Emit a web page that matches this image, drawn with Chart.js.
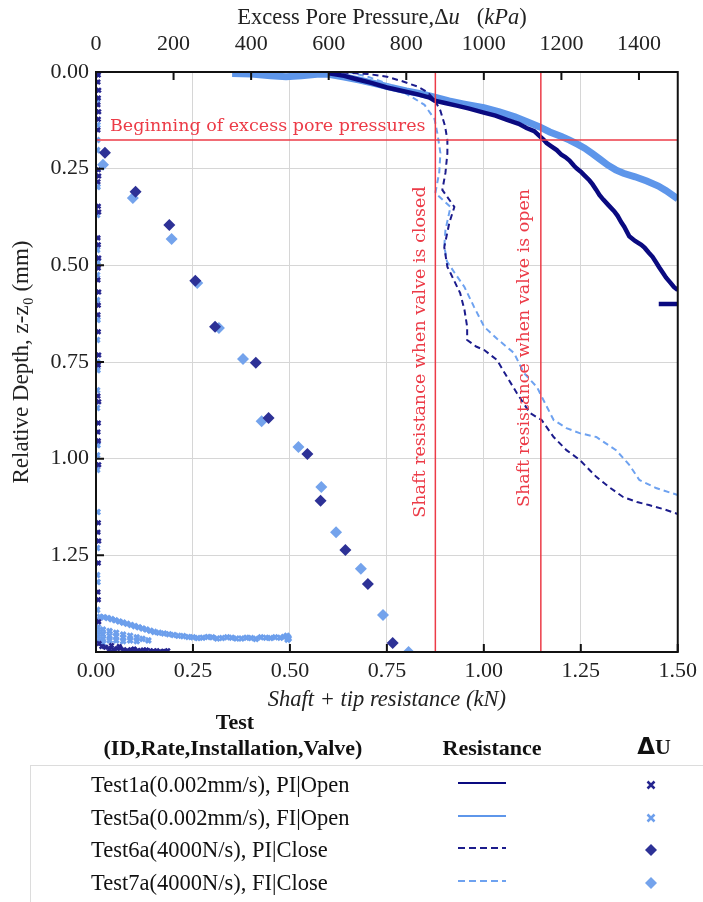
<!DOCTYPE html>
<html>
<head>
<meta charset="utf-8">
<script src="https://cdn.jsdelivr.net/npm/chart.js@4.4.0/dist/chart.umd.min.js"></script>
<style>
body { margin: 0; background: #fff; }
#wrap { position: relative; width: 703px; height: 902px; overflow: hidden; font-family: "Liberation Serif", "Times New Roman", serif; color: #111; }
#chart { position: absolute; left: 0; top: 0; }
.hd { position: absolute; font-weight: bold; font-size: 22px; transform: translate(-50%, -50%); white-space: nowrap; }
#legendBox { position: absolute; left: 30px; top: 765px; width: 700px; height: 160px; border: 1px solid #dcdcdc; }
.row { position: absolute; left: 91px; font-size: 22.5px; transform: translateY(-50%); white-space: nowrap; }
svg.smp { position: absolute; overflow: visible; }
</style>
</head>
<body>
<div id="wrap">
  <canvas id="chart" width="703" height="715"></canvas>
  <div class="hd" style="left:235px;top:722px">Test</div>
  <div class="hd" style="left:233px;top:748px">(ID,Rate,Installation,Valve)</div>
  <div class="hd" style="left:492px;top:748px">Resistance</div>
  <div class="hd" style="left:654px;top:746px"><span style="font-family:'DejaVu Sans',sans-serif;font-size:23px">Δ</span>U</div>
  <div id="legendBox"></div>
</div>
<script>
// tick values
const resistanceTicks = [0, 0.25, 0.5, 0.75, 1.0, 1.25, 1.5];
const pressureTicks = [0, 200, 400, 600, 800, 1000, 1200, 1400];
const depthTicks = [0, 0.25, 0.5, 0.75, 1.0, 1.25, 1.5];

// reference lines
const beginDepth = 0.176;
const closedShaft = 0.875;
const openShaft = 1.147;

// resistance curves (kN vs depth mm)
const test1aResKN = [0.60, 0.64, 0.67, 0.71, 0.75, 0.79, 0.83, 0.86, 0.873, 0.90, 0.93, 0.96, 1.00, 1.03, 1.06, 1.09, 1.11, 1.13, 1.144, 1.155, 1.162, 1.175, 1.188, 1.20, 1.21, 1.221, 1.232, 1.239, 1.25, 1.258, 1.272, 1.28, 1.29, 1.298, 1.308, 1.32, 1.336, 1.345, 1.354, 1.362, 1.375, 1.39, 1.406, 1.415, 1.426, 1.435, 1.444, 1.452, 1.462, 1.47, 1.482, 1.49, 1.5];
const test1aResDepth = [0.003, 0.010, 0.018, 0.028, 0.040, 0.049, 0.058, 0.066, 0.074, 0.080, 0.087, 0.094, 0.105, 0.113, 0.124, 0.134, 0.145, 0.153, 0.166, 0.176, 0.184, 0.193, 0.202, 0.214, 0.220, 0.229, 0.242, 0.249, 0.258, 0.266, 0.280, 0.290, 0.305, 0.318, 0.330, 0.343, 0.360, 0.372, 0.388, 0.400, 0.425, 0.437, 0.447, 0.455, 0.468, 0.478, 0.492, 0.505, 0.520, 0.532, 0.546, 0.556, 0.564];
const test1aTailKN = [1.451, 1.5];
const test1aTailDepth = [0.600, 0.600];

const test5aResKN = [0.351, 0.40, 0.45, 0.49, 0.53, 0.57, 0.60, 0.64, 0.68, 0.72, 0.76, 0.80, 0.84, 0.873, 0.91, 0.95, 1.00, 1.04, 1.08, 1.11, 1.144, 1.17, 1.20, 1.221, 1.24, 1.26, 1.28, 1.30, 1.32, 1.34, 1.36, 1.39, 1.42, 1.45, 1.47, 1.50];
const test5aResDepth = [0.004, 0.005, 0.010, 0.012, 0.010, 0.006, 0.006, 0.013, 0.021, 0.030, 0.040, 0.049, 0.057, 0.065, 0.075, 0.083, 0.092, 0.103, 0.116, 0.128, 0.142, 0.155, 0.167, 0.176, 0.186, 0.197, 0.211, 0.226, 0.241, 0.253, 0.262, 0.271, 0.282, 0.295, 0.307, 0.328];

const test6aResKN = [0.61, 0.70, 0.75, 0.79, 0.83, 0.855, 0.873, 0.888, 0.900, 0.906, 0.906, 0.901, 0.893, 0.924, 0.911, 0.898, 0.906, 0.914, 0.939, 0.950, 0.957, 0.957, 0.980, 1.001, 1.034, 1.060, 1.085, 1.119, 1.149, 1.180, 1.213, 1.247, 1.290, 1.325, 1.359, 1.395, 1.426, 1.465, 1.500];
const test6aResDepth = [0.000, 0.005, 0.012, 0.024, 0.038, 0.052, 0.072, 0.100, 0.140, 0.176, 0.210, 0.261, 0.305, 0.349, 0.390, 0.453, 0.504, 0.520, 0.572, 0.615, 0.659, 0.693, 0.710, 0.719, 0.745, 0.789, 0.830, 0.882, 0.900, 0.944, 0.978, 1.003, 1.047, 1.075, 1.099, 1.112, 1.120, 1.131, 1.143];

const test7aResKN = [0.65, 0.70, 0.74, 0.778, 0.81, 0.847, 0.873, 0.881, 0.888, 0.885, 0.875, 0.914, 0.901, 0.898, 0.905, 0.925, 0.950, 0.975, 1.001, 1.034, 1.078, 1.103, 1.137, 1.160, 1.180, 1.213, 1.247, 1.290, 1.341, 1.375, 1.401, 1.444, 1.500];
const test7aResDepth = [0.000, 0.012, 0.026, 0.044, 0.062, 0.085, 0.122, 0.163, 0.210, 0.260, 0.313, 0.349, 0.409, 0.450, 0.490, 0.520, 0.556, 0.608, 0.659, 0.690, 0.727, 0.778, 0.815, 0.861, 0.900, 0.921, 0.934, 0.944, 0.978, 1.016, 1.055, 1.076, 1.094];

// excess pore pressure (kPa vs depth mm)
const test1aDuKPa = [6, 5, 7, 6, 5, 7, 6, 5, 6, 7, 5, 6, 7, 5, 6, 7, 6, 5, 7, 6, 5, 6, 7, 6, 5, 7, 6, 5, 6, 7, 6, 5, 7, 6, 5, 6, 7,
  8, 15, 25, 35, 45, 55, 62, 72, 80, 90, 98, 108, 115, 122, 130, 140, 148, 157, 165, 175, 185, 40, 60];
const test1aDuDepth = [0.008, 0.026, 0.047, 0.067, 0.085, 0.103, 0.122, 0.150, 0.253, 0.269, 0.284, 0.347, 0.362, 0.429, 0.447, 0.481, 0.507, 0.538, 0.569, 0.603, 0.628, 0.672, 0.732, 0.758, 0.838, 0.853, 0.908, 0.931, 0.954, 1.016, 1.166, 1.190, 1.213, 1.270, 1.345, 1.365, 1.422,
  1.478, 1.486, 1.488, 1.492, 1.494, 1.491, 1.490, 1.494, 1.496, 1.494, 1.492, 1.496, 1.497, 1.495, 1.495, 1.497, 1.498, 1.497, 1.499, 1.498, 1.497, 1.483, 1.486];

const test5aDuKPa = [3, 4, 3, 3, 4, 3, 3, 4, 3, 3, 4, 3, 3, 4, 3, 3, 4, 3, 3, 4, 3, 3, 4, 3,
  10, 20, 30, 40, 50, 60, 70, 80, 90, 100, 110, 120, 130, 140, 150, 162, 175, 188, 200, 212, 225, 238, 250, 262, 275, 288, 300, 312, 325, 338, 350, 362, 375, 388, 400, 412, 425, 438, 450, 462, 475, 485, 492, 495, 497, 494,
  5, 5, 5, 5, 18, 18, 18, 18, 35, 35, 35, 52, 52, 52, 70, 70, 70, 88, 88, 105, 105, 120, 135];
const test5aDuDepth = [0.072, 0.137, 0.176, 0.202, 0.297, 0.370, 0.460, 0.491, 0.525, 0.590, 0.641, 0.693, 0.750, 0.771, 0.823, 0.869, 0.965, 0.991, 1.029, 1.138, 1.231, 1.301, 1.319, 1.391,
  1.409, 1.410, 1.412, 1.415, 1.418, 1.421, 1.424, 1.427, 1.430, 1.433, 1.436, 1.439, 1.442, 1.445, 1.448, 1.450, 1.452, 1.454, 1.456, 1.458, 1.459, 1.461, 1.462, 1.464, 1.463, 1.461, 1.462, 1.465, 1.464, 1.462, 1.463, 1.465, 1.465, 1.463, 1.464, 1.466, 1.462, 1.463, 1.464, 1.462, 1.463, 1.461, 1.458, 1.461, 1.465, 1.468,
  1.436, 1.448, 1.460, 1.472, 1.442, 1.454, 1.466, 1.478, 1.446, 1.458, 1.470, 1.450, 1.460, 1.470, 1.455, 1.463, 1.472, 1.458, 1.470, 1.462, 1.472, 1.466, 1.470];

const test6aDuKPa = [23, 102, 189, 256, 307, 412, 445, 545, 579, 643, 701, 765];
const test6aDuDepth = [0.209, 0.310, 0.396, 0.540, 0.659, 0.752, 0.895, 0.988, 1.109, 1.236, 1.324, 1.477];

const test7aDuKPa = [18, 95, 195, 261, 317, 379, 427, 522, 581, 619, 683, 740, 806];
const test7aDuDepth = [0.240, 0.326, 0.432, 0.546, 0.662, 0.742, 0.903, 0.970, 1.073, 1.190, 1.285, 1.404, 1.500];

const legendNames = ['Test1a(0.002mm/s), PI|Open', 'Test5a(0.002mm/s), FI|Open', 'Test6a(4000N/s), PI|Close', 'Test7a(4000N/s), FI|Close'];
const legendRowY = [785, 818, 850, 883];

const navy = '#0a0a80';
const lightBlue = '#5e96ea';
const navyDash = '#1c1c8c';
const lightDash = '#6ea2f0';
const navyDiamond = '#2d3196';
const lightDiamond = '#74a3ec';
const navyCross = '#25258f';
const lightCross = '#6d9fec';
const red = '#ec3b47';
const serif = '"Liberation Serif", "Times New Roman", serif';

function pts(xs, ys) {
    return xs.map((x, i) => ({ x: x, y: ys[i] }));
}

function lineSet(data, color, width, dash, axis) {
    return {
        data: data, xAxisID: axis || 'x', yAxisID: 'y', showLine: true,
        borderColor: color, borderWidth: width, borderDash: dash || [],
        pointRadius: 0, tension: 0, spanGaps: false
    };
}

function markerSet(data, color, style, radius, bw) {
    return {
        data: data, xAxisID: 'x2', yAxisID: 'y', showLine: false,
        pointStyle: style, pointRadius: radius, pointBorderWidth: bw,
        pointBackgroundColor: color, pointBorderColor: color
    };
}

const test1aLine = pts(test1aResKN, test1aResDepth).concat([{ x: 1.5, y: null }], pts(test1aTailKN, test1aTailDepth));

const datasets = [
    lineSet([{ x: 0, y: beginDepth }, { x: 1.5, y: beginDepth }], red, 1.5),
    lineSet([{ x: closedShaft, y: 0 }, { x: closedShaft, y: 1.5 }], red, 1.5),
    lineSet([{ x: openShaft, y: 0 }, { x: openShaft, y: 1.5 }], red, 1.5),
    markerSet(pts(test6aDuKPa, test6aDuDepth), navyDiamond, 'rectRot', 6, 0),
    markerSet(pts(test7aDuKPa, test7aDuDepth), lightDiamond, 'rectRot', 6, 0),
    markerSet(pts(test1aDuKPa, test1aDuDepth), navyCross, 'crossRot', 3, 2.5),
    markerSet(pts(test5aDuKPa, test5aDuDepth), lightCross, 'crossRot', 3.5, 3),
    lineSet(test1aLine, navy, 4.5),
    lineSet(pts(test6aResKN, test6aResDepth), navyDash, 2, [6, 4]),
    lineSet(pts(test7aResKN, test7aResDepth), lightDash, 2, [6, 4]),
    lineSet(pts(test5aResKN, test5aResDepth), lightBlue, 7)
];

const overlay = {
    id: 'overlay',
    afterDatasetsDraw(chart) {
        const { ctx, chartArea: a, scales } = chart;
        ctx.save();
        // inward tick marks
        ctx.strokeStyle = '#111';
        ctx.lineWidth = 2;
        ctx.beginPath();
        resistanceTicks.forEach(v => {
            const x = scales.x.getPixelForValue(v);
            ctx.moveTo(x, a.bottom); ctx.lineTo(x, a.bottom - 8);
        });
        pressureTicks.forEach(v => {
            const x = scales.x2.getPixelForValue(v);
            ctx.moveTo(x, a.top); ctx.lineTo(x, a.top + 8);
        });
        depthTicks.forEach(v => {
            const y = scales.y.getPixelForValue(v);
            ctx.moveTo(a.left, y); ctx.lineTo(a.left + 8, y);
        });
        ctx.stroke();
        ctx.strokeRect(a.left, a.top, a.right - a.left, a.bottom - a.top);

        // red notes
        ctx.fillStyle = red;
        ctx.font = '17.5px "DejaVu Serif", serif';
        ctx.textBaseline = 'alphabetic';
        ctx.textAlign = 'left';
        ctx.fillText('Beginning of excess pore pressures', a.left + 14, scales.y.getPixelForValue(beginDepth) - 9);
        ctx.textAlign = 'center';
        ctx.textBaseline = 'middle';
        ctx.save();
        ctx.translate(scales.x.getPixelForValue(closedShaft) - 15, 352);
        ctx.rotate(-Math.PI / 2);
        ctx.fillText('Shaft resistance when valve is closed', 0, 0);
        ctx.restore();
        ctx.save();
        ctx.translate(scales.x.getPixelForValue(openShaft) - 16, 348);
        ctx.rotate(-Math.PI / 2);
        ctx.fillText('Shaft resistance when valve is open', 0, 0);
        ctx.restore();

        // top axis title, mixed upright / italic
        const parts = [['Excess Pore Pressure,Δ', ''], ['u', 'italic '], ['   (', ''], ['kPa', 'italic '], [')', '']];
        let total = 0;
        parts.forEach(p => { ctx.font = p[1] + '22.5px ' + serif; total += ctx.measureText(p[0]).width; });
        let x = 382 - total / 2;
        ctx.fillStyle = '#222';
        ctx.textAlign = 'left';
        ctx.textBaseline = 'middle';
        parts.forEach(p => {
            ctx.font = p[1] + '22.5px ' + serif;
            ctx.fillText(p[0], x, 18);
            x += ctx.measureText(p[0]).width;
        });
        ctx.restore();
    }
};

new Chart('chart', {
    type: 'scatter',
    data: { datasets: datasets },
    options: {
        responsive: false,
        animation: false,
        events: [],
        layout: { padding: { left: 0, right: 21, top: 0, bottom: 0 } },
        plugins: { legend: { display: false }, tooltip: { enabled: false } },
        scales: {
            x: {
                type: 'linear', position: 'bottom', min: 0, max: 1.5,
                afterBuildTicks: s => { s.ticks = resistanceTicks.map(v => ({ value: v })); },
                afterFit: s => { s.height = 63; },
                grid: { color: '#d6d6d6', lineWidth: 1, drawTicks: false },
                border: { display: false },
                ticks: { padding: 6, color: '#222', font: { family: serif, size: 22 }, maxRotation: 0, autoSkip: false, callback: v => v.toFixed(2) },
                title: { display: true, text: 'Shaft + tip resistance (kN)', color: '#222', font: { family: serif, size: 22.5, style: 'italic' }, padding: { top: 0, bottom: 1 } }
            },
            x2: {
                type: 'linear', position: 'top', min: 0, max: 1500,
                afterBuildTicks: s => { s.ticks = pressureTicks.map(v => ({ value: v })); },
                afterFit: s => { s.height = 72; },
                grid: { display: false, drawTicks: false },
                border: { display: false },
                ticks: { padding: 15, color: '#222', font: { family: serif, size: 22 }, maxRotation: 0, autoSkip: false, callback: v => String(v) }
            },
            y: {
                type: 'linear', reverse: true, min: 0, max: 1.5,
                afterBuildTicks: s => { s.ticks = depthTicks.map(v => ({ value: v })); },
                afterFit: s => { s.width = 96; },
                grid: { color: '#d6d6d6', lineWidth: 1, drawTicks: false },
                border: { display: false },
                ticks: { padding: 7, color: '#222', font: { family: serif, size: 22 }, autoSkip: false, callback: v => (v >= 1.5 ? '' : v.toFixed(2)) },
                title: { display: true, text: 'Relative Depth, z-z₀ (mm)', color: '#222', font: { family: serif, size: 23 }, padding: { top: 8, bottom: 0 } }
            }
        }
    },
    plugins: [overlay]
});

// legend rows
const wrap = document.getElementById('wrap');
const sampleColors = [navy, lightBlue, navyDash, lightDash];
const sampleDash = ['', '', '7 4', '7 4'];
const markColors = [navyCross, lightCross, navyDiamond, lightDiamond];
legendNames.forEach((name, i) => {
    const y = legendRowY[i];
    const t = document.createElement('div');
    t.className = 'row';
    t.style.top = y + 'px';
    t.textContent = name;
    wrap.appendChild(t);

    const ns = 'http://www.w3.org/2000/svg';
    const s1 = document.createElementNS(ns, 'svg');
    s1.setAttribute('class', 'smp');
    s1.setAttribute('width', 48); s1.setAttribute('height', 6);
    s1.style.left = '458px'; s1.style.top = (y - 5) + 'px';
    s1.innerHTML = '<line x1="0" y1="3" x2="48" y2="3" stroke="' + sampleColors[i] + '" stroke-width="2" stroke-dasharray="' + sampleDash[i] + '"/>';
    wrap.appendChild(s1);

    const s2 = document.createElementNS(ns, 'svg');
    s2.setAttribute('class', 'smp');
    s2.setAttribute('width', 12); s2.setAttribute('height', 12);
    s2.style.left = '645px'; s2.style.top = (y - 6) + 'px';
    if (i < 2) {
        s2.innerHTML = '<path d="M2.5 2.5 L9.5 9.5 M9.5 2.5 L2.5 9.5" stroke="' + markColors[i] + '" stroke-width="2.5"/>';
    } else {
        s2.innerHTML = '<polygon points="6,0 12,6 6,12 0,6" fill="' + markColors[i] + '"/>';
    }
    wrap.appendChild(s2);
});
</script>
</body>
</html>
